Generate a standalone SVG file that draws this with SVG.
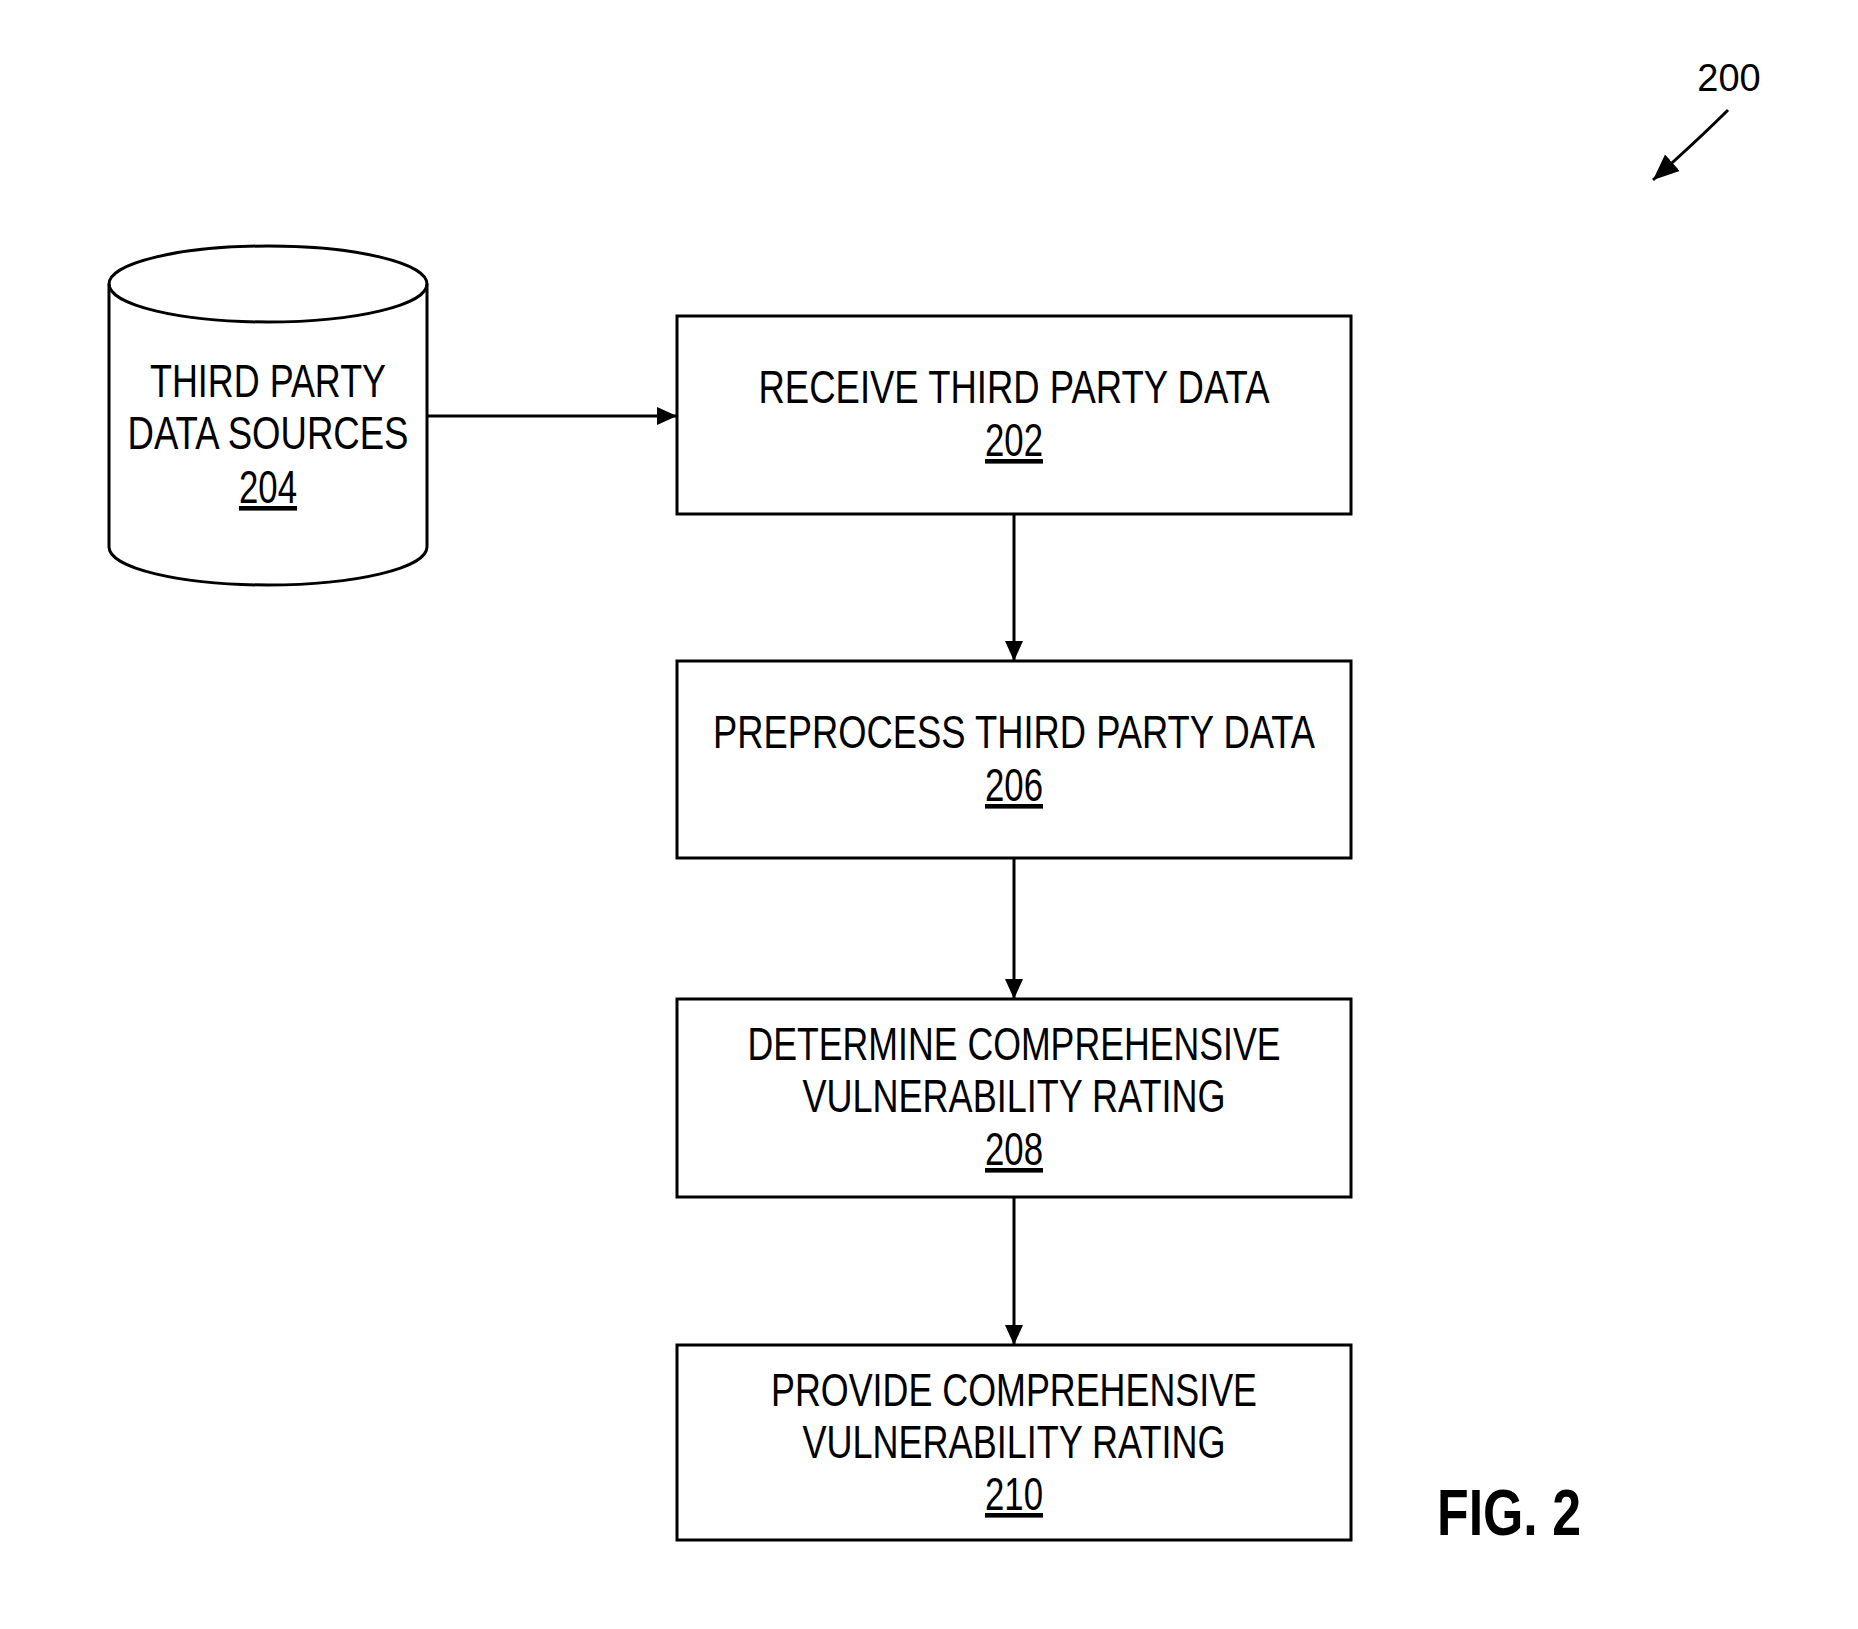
<svg xmlns="http://www.w3.org/2000/svg" width="1858" height="1629" viewBox="0 0 1858 1629">
<defs>
<style>
.box{fill:#fff;stroke:#000;stroke-width:3}
.t{font-family:"Liberation Sans",Arial,sans-serif;font-size:46px;fill:#000;text-anchor:middle}
.n{text-decoration:underline}
.c{stroke:#000;stroke-width:3;fill:none}
</style>
<marker id="ah" markerWidth="20" markerHeight="20" viewBox="0 0 20 20" refX="20" refY="10" orient="auto" markerUnits="userSpaceOnUse">
<path d="M0,1 L20,10 L0,19 Z" fill="#000"/>
</marker>
<marker id="ah2" markerWidth="26" markerHeight="26" viewBox="0 0 26 26" refX="26" refY="13" orient="auto" markerUnits="userSpaceOnUse">
<path d="M0,2 L26,13 L0,24 Z" fill="#000"/>
</marker>
</defs>
<rect width="1858" height="1629" fill="#fff"/>

<g id="connectors">
<line class="c" x1="427" y1="416" x2="677" y2="416" marker-end="url(#ah)"/>
<line class="c" x1="1014" y1="514" x2="1014" y2="661" marker-end="url(#ah)"/>
<line class="c" x1="1014" y1="858" x2="1014" y2="999" marker-end="url(#ah)"/>
<line class="c" x1="1014" y1="1197" x2="1014" y2="1345" marker-end="url(#ah)"/>
</g>

<g id="ref200">
<text x="1729" y="91" font-family="Liberation Sans,Arial,sans-serif" font-size="38" text-anchor="middle">200</text>
<path class="c" d="M1728,110 Q1700,138 1653,180" marker-end="url(#ah2)"/>
</g>

<g id="node204">
<path class="box" d="M109,284 L109,547 A159,38 0 0 0 427,547 L427,284 A159,38 0 0 0 109,284 Z"/>
<path class="c" d="M109,284 A159,38 0 0 0 427,284"/>
<text class="t" x="268" y="397" textLength="236" lengthAdjust="spacingAndGlyphs">THIRD PARTY</text>
<text class="t" x="268" y="449" textLength="281" lengthAdjust="spacingAndGlyphs">DATA SOURCES</text>
<text class="t n" x="268" y="503" textLength="58" lengthAdjust="spacingAndGlyphs">204</text>
</g>

<g id="node202">
<rect class="box" x="677" y="316" width="674" height="198"/>
<text class="t" x="1014" y="403" textLength="511" lengthAdjust="spacingAndGlyphs">RECEIVE THIRD PARTY DATA</text>
<text class="t n" x="1014" y="456" textLength="58" lengthAdjust="spacingAndGlyphs">202</text>
</g>

<g id="node206">
<rect class="box" x="677" y="661" width="674" height="197"/>
<text class="t" x="1014" y="748" textLength="602" lengthAdjust="spacingAndGlyphs">PREPROCESS THIRD PARTY DATA</text>
<text class="t n" x="1014" y="801" textLength="58" lengthAdjust="spacingAndGlyphs">206</text>
</g>

<g id="node208">
<rect class="box" x="677" y="999" width="674" height="198"/>
<text class="t" x="1014" y="1060" textLength="533" lengthAdjust="spacingAndGlyphs">DETERMINE COMPREHENSIVE</text>
<text class="t" x="1014" y="1112" textLength="423" lengthAdjust="spacingAndGlyphs">VULNERABILITY RATING</text>
<text class="t n" x="1014" y="1165" textLength="58" lengthAdjust="spacingAndGlyphs">208</text>
</g>

<g id="node210">
<rect class="box" x="677" y="1345" width="674" height="195"/>
<text class="t" x="1014" y="1406" textLength="486" lengthAdjust="spacingAndGlyphs">PROVIDE COMPREHENSIVE</text>
<text class="t" x="1014" y="1458" textLength="423" lengthAdjust="spacingAndGlyphs">VULNERABILITY RATING</text>
<text class="t n" x="1014" y="1510" textLength="58" lengthAdjust="spacingAndGlyphs">210</text>
</g>

<g id="figlabel">
<text x="1437" y="1535" font-family="Liberation Sans,Arial,sans-serif" font-size="64" font-weight="bold" textLength="144" lengthAdjust="spacingAndGlyphs">FIG. 2</text>
</g>
</svg>
